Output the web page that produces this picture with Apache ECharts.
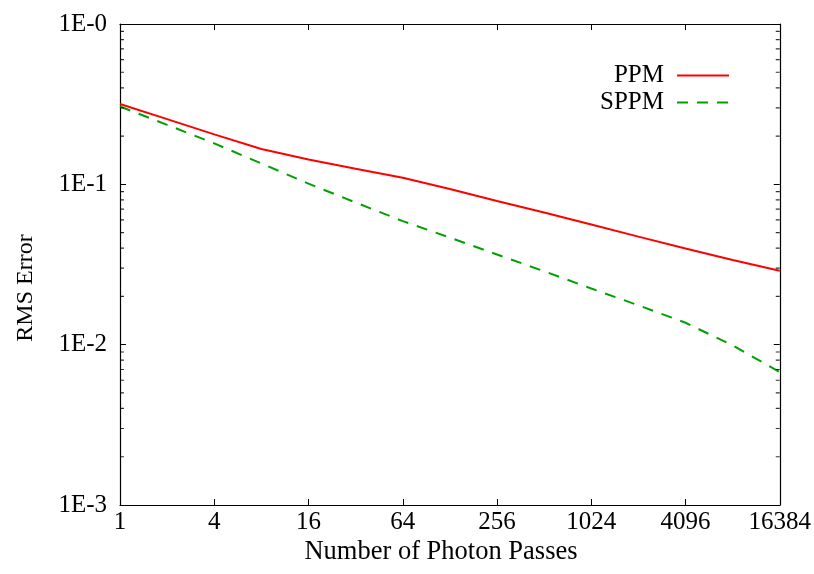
<!DOCTYPE html>
<html>
<head>
<meta charset="utf-8">
<script src="https://cdn.jsdelivr.net/npm/echarts@6/dist/echarts.min.js"></script>
<style>html,body{margin:0;padding:0;background:#fff}#c{width:814px;height:574px}</style>
</head>
<body>
<div id="c"></div>
<script>
// Data
const passes = [1, 2, 4, 8, 16, 32, 64, 128, 256, 512, 1024, 2048, 4096, 8192, 16384];
const ppm    = [0.317, 0.255, 0.205, 0.166, 0.143, 0.125, 0.110, 0.0935, 0.0787, 0.0667, 0.0561, 0.0472, 0.0398, 0.0337, 0.0289];
const sppm   = [0.306, 0.235, 0.180, 0.135, 0.101, 0.077, 0.059, 0.0465, 0.0365, 0.0287, 0.0224, 0.0176, 0.0137, 0.0099, 0.00675];
const xTicks = [1, 4, 16, 64, 256, 1024, 4096, 16384];
const yTicks = [0.001, 0.01, 0.1, 1];
const yMinorTicks = [];
for (let e = -3; e <= -1; e++) for (let m = 2; m <= 9; m++) yMinorTicks.push(m * Math.pow(10, e));
const seriesNames = ['PPM', 'SPPM'];
const xTitle = 'Number of Photon Passes';
const yTitle = 'RMS Error';

const FONT = 'Liberation Serif';
const FS = 25;
const chart = echarts.init(document.getElementById('c'), null, {renderer: 'canvas'});

function xfmt(v) { return String(Math.round(v)); }
function yfmt(v) { return '1E-' + Math.round(-Math.log10(v)); }

const axisLineStyle = {show: true, lineStyle: {color: '#000', width: 1.2}};
const legendText = {fontFamily: FONT, fontSize: FS, color: '#000', padding: [0, 8, 0, 0]};
const legendCommon = {orient: 'vertical', align: 'right', right: 84, padding: 0, itemWidth: 52, itemHeight: 14,
  textStyle: legendText, selectedMode: false, itemStyle: {opacity: 0}};
const TICK_LEN = 4;
const xMin = xTicks[0], xMax = xTicks[xTicks.length - 1];
// Symbol shapes: a filled half plus an invisible zero-width sliver so the tick sits only inside the frame
const tickRightHalf = 'path://M0,0L0,1M4,0L8,0L8,1L4,1Z';
const tickLeftHalf = 'path://M0,0L4,0L4,1L0,1ZM8,0L8,1';

chart.setOption({
  animation: false,
  backgroundColor: '#fff',
  grid: {left: 120, right: 32, top: 24, bottom: 69, containLabel: false},
  legend: [
    Object.assign({data: [seriesNames[0]], top: 63}, legendCommon),
    Object.assign({data: [seriesNames[1]], top: 90}, legendCommon)
  ],
  xAxis: [
    {type: 'log', logBase: 2, min: xMin, max: xMax, interval: 2,
     axisLine: axisLineStyle, axisTick: {inside: true, length: 6, lineStyle: {color: '#000'}},
     axisLabel: {formatter: xfmt, fontFamily: FONT, fontSize: FS, color: '#000', margin: 5},
     splitLine: {show: false}, minorTick: {show: false}},
    {type: 'log', logBase: 2, position: 'top', min: xMin, max: xMax, interval: 2,
     axisLine: axisLineStyle, axisTick: {inside: true, length: 6, lineStyle: {color: '#000'}},
     axisLabel: {show: false}, splitLine: {show: false}}
  ],
  yAxis: [
    {type: 'log', logBase: 10, min: yTicks[0], max: yTicks[yTicks.length - 1], interval: 1,
     axisLine: axisLineStyle, axisTick: {inside: true, length: 6, lineStyle: {color: '#000'}},
     axisLabel: {formatter: yfmt, fontFamily: FONT, fontSize: FS, color: '#000', margin: 13},
     splitLine: {show: false}},
    {type: 'log', logBase: 10, position: 'right', min: yTicks[0], max: yTicks[yTicks.length - 1], interval: 1,
     axisLine: axisLineStyle, axisTick: {inside: true, length: 6, lineStyle: {color: '#000'}},
     axisLabel: {show: false}, splitLine: {show: false}}
  ],
  graphic: [
    {type: 'text', style: {text: xTitle, font: '26.5px "' + FONT + '"', fill: '#000', textAlign: 'center', textVerticalAlign: 'middle'}, position: [441, 552]},
    {type: 'text', style: {text: yTitle, font: '24px "' + FONT + '"', fill: '#000', textAlign: 'center', textVerticalAlign: 'middle'}, position: [26, 288], rotation: Math.PI / 2}
  ],
  series: [
    {name: seriesNames[0], type: 'line', data: passes.map((p, i) => [p, ppm[i]]), showSymbol: false, symbol: 'none',
     lineStyle: {color: '#ff0000', width: 2}, itemStyle: {color: '#ff0000'}, z: 3},
    {name: seriesNames[1], type: 'line', data: passes.map((p, i) => [p, sppm[i]]), showSymbol: false, symbol: 'none',
     lineStyle: {color: '#00a000', width: 2, type: [11, 9]}, itemStyle: {color: '#00a000'}, z: 3},
    {name: 'minorL', type: 'scatter', xAxisIndex: 0, yAxisIndex: 0, data: yMinorTicks.map(v => [xMin, v]),
     symbol: tickRightHalf, symbolSize: [TICK_LEN * 2, 1.2], itemStyle: {color: '#000'}, clip: true, z: 10},
    {name: 'minorR', type: 'scatter', xAxisIndex: 0, yAxisIndex: 0, data: yMinorTicks.map(v => [xMax, v]),
     symbol: tickLeftHalf, symbolSize: [TICK_LEN * 2, 1.2], itemStyle: {color: '#000'}, clip: true, z: 10}
  ]
});
</script>
</body>
</html>
